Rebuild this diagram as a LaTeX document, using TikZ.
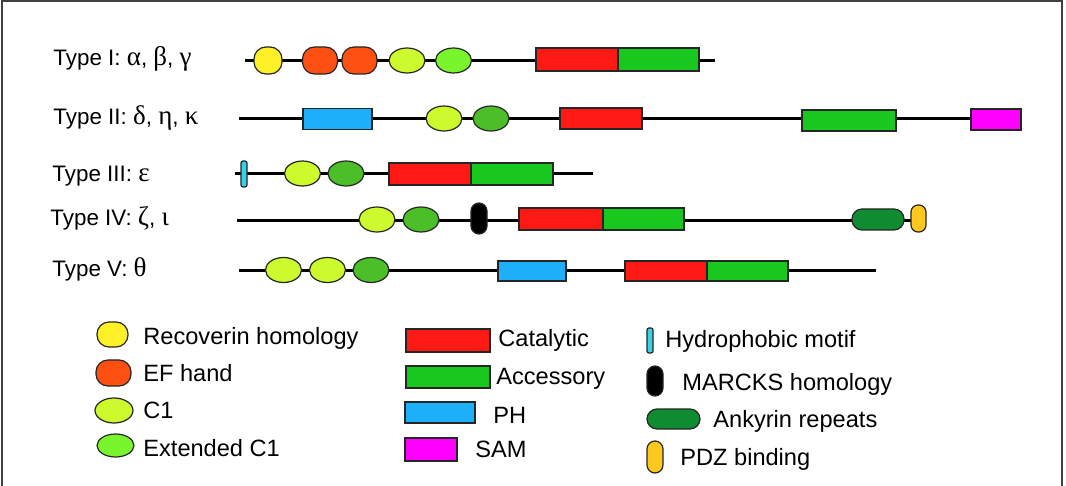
\documentclass[tikz,border=0pt]{standalone}
\usepackage{fontspec}
\setmainfont{Liberation Sans}
\newfontfamily\grk{Liberation Serif}
\newcommand{\gk}[1]{{\grk\fontsize{13.5}{14}\selectfont #1}}
\usetikzlibrary{shapes.geometric,positioning}

\definecolor{recovyellow}{RGB}{255,240,40}
\definecolor{efred}{RGB}{255,80,20}
\definecolor{cilime}{RGB}{205,250,45}
\definecolor{extgreen}{RGB}{120,245,45}
\definecolor{cidark}{RGB}{75,190,40}
\definecolor{catred}{RGB}{255,25,20}
\definecolor{accgreen}{RGB}{25,200,30}
\definecolor{phblue}{RGB}{30,175,250}
\definecolor{sammag}{RGB}{255,0,255}
\definecolor{hydcyan}{RGB}{55,210,230}
\definecolor{ankgreen}{RGB}{15,140,50}
\definecolor{pdzyellow}{RGB}{255,200,30}

\tikzset{
  dom/.style={draw=black!85, line width=0.6pt, inner sep=0pt, outer sep=0pt},
  oval/.style={dom, ellipse, minimum width=18pt, minimum height=12.5pt},
  c1/.style={oval, fill=cilime},
  c1ext/.style={oval, fill=extgreen},
  c1dk/.style={oval, fill=cidark},
  recov/.style={dom, rounded corners=6pt, fill=recovyellow, minimum width=14pt, minimum height=13.5pt},
  efhand/.style={dom, rounded corners=6pt, fill=efred, minimum width=17.5pt, minimum height=13.5pt},
  cat/.style={dom, fill=catred, minimum width=41pt, minimum height=11pt},
  acc/.style={dom, fill=accgreen, minimum width=40.5pt, minimum height=11pt},
  ph/.style={dom, fill=phblue, minimum width=34.5pt, minimum height=10.5pt},
  sam/.style={dom, fill=sammag, minimum width=25pt, minimum height=10.5pt},
  hyd/.style={dom, fill=hydcyan, rounded corners=1pt, minimum width=3pt, minimum height=13pt},
  marcks/.style={dom, fill=black, rounded corners=4pt, minimum width=8pt, minimum height=15.5pt},
  ank/.style={dom, fill=ankgreen, rounded corners=5pt, minimum width=26pt, minimum height=10.5pt},
  pdz/.style={dom, fill=pdzyellow, rounded corners=3.5pt, minimum width=7.5pt, minimum height=13.5pt},
  backbone/.style={line width=1.5pt},
  typelbl/.style={anchor=base west, inner sep=0pt, font=\fontsize{11.2}{13}\selectfont},
  keylbl/.style={anchor=base west, inner sep=0pt, font=\fontsize{11.8}{14}\selectfont}
}

\begin{document}
\begin{tikzpicture}[x=0.5pt, y=-0.5pt]
  \useasboundingbox (0,0) rectangle (1066,486);
  \clip (0,0) rectangle (1066,486);
  \fill[white] (0,0) rectangle (1066,486);
  \draw[line width=1.1pt, black!75] (2,1) rectangle (1062,500);

  % Row labels
  \node[typelbl] (lbl1) at (53,66) {Type I: \gk{α}, \gk{β}, \gk{γ}};
  \node[typelbl] (lbl2) at (53,125) {Type II: \gk{δ}, \gk{η}, \gk{κ}};
  \node[typelbl] (lbl3) at (52,182) {Type III: \gk{ε}};
  \node[typelbl] (lbl4) at (50,226) {Type IV: \gk{ζ}, \gk{ι}};
  \node[typelbl] (lbl5) at (52,277) {Type V: \gk{θ}};

  % Backbones
  \coordinate (r1a) at (245,61); \coordinate (r1b) at (715,61);
  \coordinate (r2a) at (239,119); \coordinate (r2b) at (971,119);
  \coordinate (r3a) at (235,174); \coordinate (r3b) at (593,174);
  \coordinate (r4a) at (237,221); \coordinate (r4b) at (911,221);
  \coordinate (r5a) at (239,271); \coordinate (r5b) at (876,271);
  \draw[backbone] (r1a) -- (r1b);
  \draw[backbone] (r2a) -- (r2b);
  \draw[backbone] (r3a) -- (r3b);
  \draw[backbone] (r4a) -- (r4b);
  \draw[backbone] (r5a) -- (r5b);

  % Type I
  \node[recov] (r1rec) at (268,60.5) {};
  \node[efhand] (r1ef1) at (320,60.5) {};
  \node[efhand] (r1ef2) at (359.5,60.5) {};
  \node[c1] (r1c1) at (407,60.5) {};
  \node[c1ext] (r1ext) at (453.5,60.5) {};
  \node[cat, minimum height=11.5pt] (r1cat) at (577,59.5) {};
  \node[acc, minimum height=11.5pt, right=0pt of r1cat] (r1acc) {};

  % Type II
  \node[ph] (r2ph) at (337.5,119) {};
  \node[c1] (r2c1) at (444,118.5) {};
  \node[c1dk] (r2c1b) at (491,118.5) {};
  \node[cat, minimum height=10.5pt] (r2cat) at (601,118.5) {};
  \node[acc, minimum width=47pt, minimum height=10.5pt] (r2acc) at (849,120.5) {};
  \node[sam] (r2sam) at (996,119.5) {};

  % Type III
  \node[hyd] (r3hyd) at (244,174) {};
  \node[c1] (r3c1) at (302.5,173.5) {};
  \node[c1dk] (r3c1b) at (346,173.5) {};
  \node[cat] (r3cat) at (430,174) {};
  \node[acc, minimum width=41pt, right=0pt of r3cat] (r3acc) {};

  % Type IV
  \node[c1] (r4c1) at (377,219.5) {};
  \node[c1dk] (r4c1b) at (421,219.5) {};
  \node[marcks] (r4mar) at (479,218.5) {};
  \node[cat, minimum width=42pt] (r4cat) at (561,219) {};
  \node[acc, right=0pt of r4cat] (r4acc) {};
  \node[ank] (r4ank) at (878,219.5) {};
  \node[pdz] (r4pdz) at (918.5,218.5) {};

  % Type V
  \node[c1] (r5c1) at (283.5,270) {};
  \node[c1] (r5c1b) at (327.5,270) {};
  \node[c1dk] (r5c1c) at (371,270) {};
  \node[ph, minimum width=34pt, minimum height=10pt] (r5ph) at (532,271) {};
  \node[cat, minimum height=10pt] (r5cat) at (666,271) {};
  \node[acc, minimum height=10pt, right=0pt of r5cat] (r5acc) {};

  % Key, left column
  \node[recov, minimum width=15.5pt, minimum height=12.5pt, rounded corners=6pt] (kyrec) at (112.5,334.5) {};
  \node[efhand, minimum height=13pt] (kyef) at (113.5,373) {};
  \node[c1, minimum width=19pt] (kyc1) at (114,410.5) {};
  \node[c1ext, minimum width=18.5pt, minimum height=11.5pt] (kyext) at (115.5,445.5) {};
  \node[keylbl] (tyrec) at (143,344) {Recoverin homology};
  \node[keylbl] (tyef) at (143,381) {EF hand};
  \node[keylbl] (tyc1) at (143,418) {C1};
  \node[keylbl] (tyext) at (143,456) {Extended C1};

  % Key, middle column
  \node[cat, minimum width=42pt, minimum height=11.5pt] (kycat) at (448,340.5) {};
  \node[acc, minimum width=42pt, minimum height=11pt] (kyacc) at (448,377) {};
  \node[ph, minimum width=35pt] (kyph) at (440,412.5) {};
  \node[sam, minimum width=26pt, minimum height=11.5pt] (kysam) at (431,449.5) {};
  \node[keylbl] (tycat) at (498,347) {Catalytic};
  \node[keylbl] (tyacc) at (496,385) {Accessory};
  \node[keylbl] (typh) at (493,423) {PH};
  \node[keylbl] (tysam) at (475,458) {SAM};

  % Key, right column
  \node[hyd, minimum height=12.5pt] (kyhyd) at (650,340.5) {};
  \node[marcks, minimum height=15pt] (kymar) at (655,381) {};
  \node[ank, minimum width=26.5pt, minimum height=10pt] (kyank) at (673.5,419) {};
  \node[pdz, minimum width=8pt, minimum height=16pt, rounded corners=4pt] (kypdz) at (655,457) {};
  \node[keylbl] (tyhyd) at (665,348) {Hydrophobic motif};
  \node[keylbl] (tymar) at (682,390) {MARCKS homology};
  \node[keylbl] (tyank) at (713,428) {Ankyrin repeats};
  \node[keylbl] (typdz) at (680,465) {PDZ binding};
\end{tikzpicture}
\end{document}
